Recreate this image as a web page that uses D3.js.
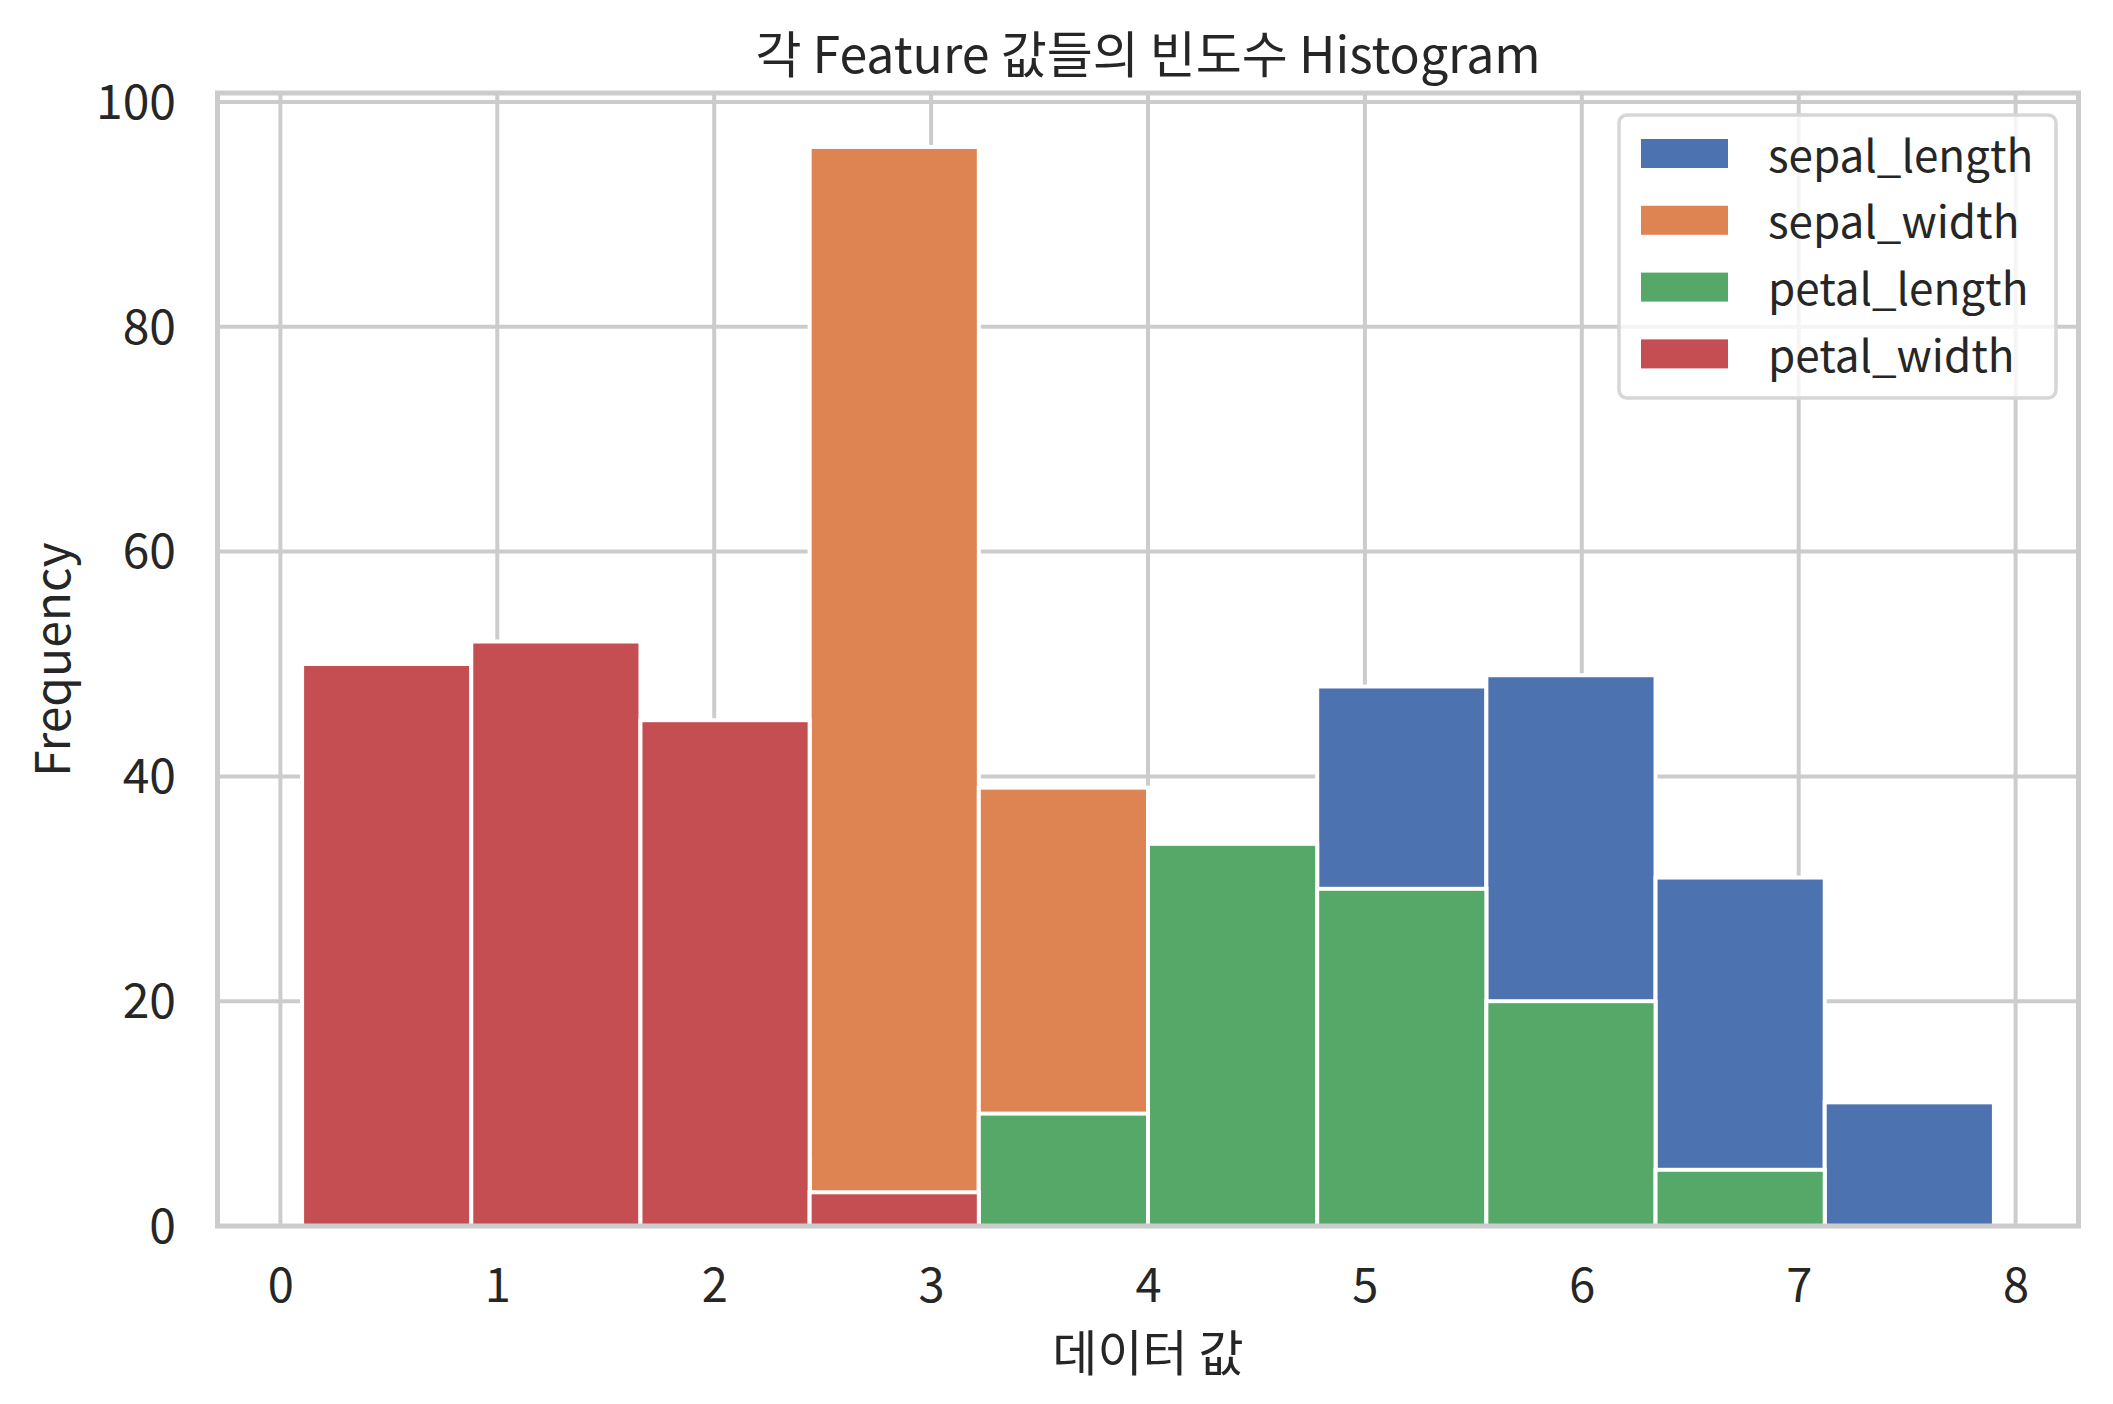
<!DOCTYPE html>
<html>
<head>
<meta charset="utf-8">
<script src="https://cdn.jsdelivr.net/npm/d3@7"></script>
<style>
  body { margin: 0; background: #fff; }
  svg text { font-family: "Noto Sans CJK KR", "Noto Sans", sans-serif; fill: #262626; }
</style>
</head>
<body>
<svg id="chart" width="2113" height="1404"></svg>
<script>
// histogram bins: 10 bins from 0.1 to 7.9
var binStart = 0.1;
var binWidth = 0.78;
var seriesNames = ["sepal_length", "sepal_width", "petal_length", "petal_width"];
var seriesColors = ["#4C72B0", "#DD8452", "#55A868", "#C44E52"];

// counts per bin (drawn one over the other, later series on top)
var sepalLength = [0, 0, 0, 0, 0, 11, 48, 49, 31, 11];
var sepalWidth  = [0, 0, 11, 96, 39, 4, 0, 0, 0, 0];
var petalLength = [0, 44, 6, 1, 10, 34, 30, 20, 5, 0];
var petalWidth  = [50, 52, 45, 3, 0, 0, 0, 0, 0, 0];

var xTicks = [0, 1, 2, 3, 4, 5, 6, 7, 8];
var yTicks = [0, 20, 40, 60, 80, 100];

var counts = [sepalLength, sepalWidth, petalLength, petalWidth];

var svg = d3.select("#chart");

var plotLeft = 217.5, plotRight = 2078.5, plotTop = 93, plotBottom = 1226;

var x = d3.scaleLinear().domain([-0.29, 8.29]).range([plotLeft, plotRight]);
var y = d3.scaleLinear().domain([0, 100.8]).range([plotBottom, plotTop]);

//Rejilla
svg.append("g")
  .selectAll("line")
  .data(xTicks).enter()
  .append("line")
    .attr("x1", function(d) { return x(d); })
    .attr("x2", function(d) { return x(d); })
    .attr("y1", plotTop).attr("y2", plotBottom)
    .attr("stroke", "#cccccc").attr("stroke-width", 4);

svg.append("g")
  .selectAll("line")
  .data(yTicks).enter()
  .append("line")
    .attr("x1", plotLeft).attr("x2", plotRight)
    .attr("y1", function(d) { return y(d); })
    .attr("y2", function(d) { return y(d); })
    .attr("stroke", "#cccccc").attr("stroke-width", 4);

//Barras
counts.forEach(function(vals, si) {
  var bars = vals.map(function(v, i) {
    return { x0: binStart + i * binWidth, x1: binStart + (i + 1) * binWidth, v: v };
  }).filter(function(d) { return d.v > 0; });

  svg.append("g")
    .selectAll("rect")
    .data(bars).enter()
    .append("rect")
      .attr("x", function(d) { return x(d.x0); })
      .attr("width", function(d) { return x(d.x1) - x(d.x0); })
      .attr("y", function(d) { return y(d.v); })
      .attr("height", function(d) { return y(0) - y(d.v); })
      .attr("fill", seriesColors[si])
      .attr("stroke", "#ffffff")
      .attr("stroke-width", 4);
});

//Marco
svg.append("rect")
  .attr("x", plotLeft).attr("y", plotTop)
  .attr("width", plotRight - plotLeft).attr("height", plotBottom - plotTop)
  .attr("fill", "none").attr("stroke", "#cccccc").attr("stroke-width", 5);

//Ejes
var xAxis = d3.axisBottom(x).tickValues(xTicks).tickSize(0).tickPadding(0);
var gx = svg.append("g").attr("transform", "translate(0," + plotBottom + ")").call(xAxis);
gx.select(".domain").remove();
gx.selectAll("text")
  .attr("y", 76).attr("dy", null)
  .style("font-size", "47px").style("font-family", "'Noto Sans CJK KR'").attr("fill", "#262626");

var yAxis = d3.axisLeft(y).tickValues(yTicks).tickSize(0).tickPadding(0);
var gy = svg.append("g").attr("transform", "translate(" + 176 + ",0)").call(yAxis);
gy.select(".domain").remove();
gy.selectAll("text")
  .attr("x", 0).attr("dy", "0.34em")
  .style("font-size", "48px").style("font-family", "'Noto Sans CJK KR'").attr("fill", "#262626");

//Textos
svg.append("text")
  .attr("x", (plotLeft + plotRight) / 2).attr("y", 73)
  .attr("text-anchor", "middle")
  .style("font-size", "50px")
  .text("각 Feature 값들의 빈도수 Histogram");

svg.append("text")
  .attr("x", (plotLeft + plotRight) / 2).attr("y", 1371)
  .attr("text-anchor", "middle")
  .style("font-size", "49px")
  .text("데이터 값");

svg.append("text")
  .attr("transform", "translate(70," + (plotTop + plotBottom) / 2 + ") rotate(-90)")
  .attr("text-anchor", "middle")
  .style("font-size", "48px")
  .text("Frequency");

//Leyenda
var legend = svg.append("g");
legend.append("rect")
  .attr("x", 1619).attr("y", 115)
  .attr("width", 437).attr("height", 283)
  .attr("rx", 8).attr("ry", 8)
  .attr("fill", "rgba(255,255,255,0.8)")
  .attr("stroke", "#d6d6d6").attr("stroke-width", 3.5);

var items = legend.selectAll("g.item")
  .data(seriesNames).enter()
  .append("g")
    .attr("class", "item")
    .attr("transform", function(d, i) { return "translate(0," + (153.5 + i * 66.8) + ")"; });

items.append("rect")
  .attr("x", 1641).attr("y", -14.5)
  .attr("width", 87).attr("height", 29)
  .attr("fill", function(d, i) { return seriesColors[i]; });

items.append("text")
  .attr("x", 1768).attr("y", 18)
  .style("font-size", "44px")
  .text(function(d) { return d; });
</script>
</body>
</html>
